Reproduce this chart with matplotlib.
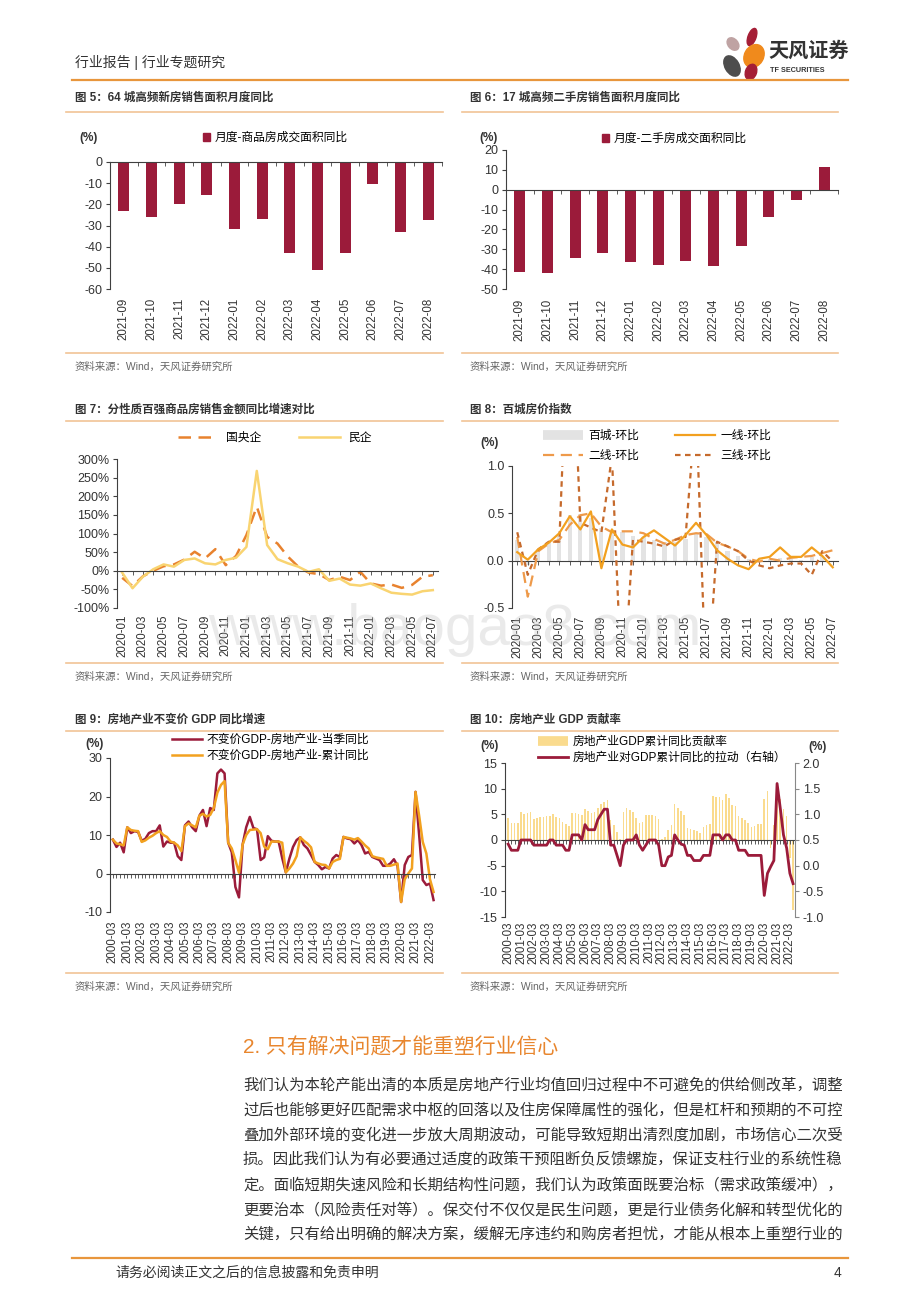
import numpy as np
import matplotlib
matplotlib.use("Agg")
import matplotlib.pyplot as plt
from matplotlib.lines import Line2D
from matplotlib.patches import Patch, Ellipse
from matplotlib.ticker import FuncFormatter

plt.rcParams['font.family'] = ['Liberation Sans', 'Noto Sans CJK SC', 'DejaVu Sans']
plt.rcParams['axes.unicode_minus'] = False

# ---------------- 数据 ----------------
months_a = ['2021-09', '2021-10', '2021-11', '2021-12', '2022-01', '2022-02',
            '2022-03', '2022-04', '2022-05', '2022-06', '2022-07', '2022-08']
new_home_yoy = [-23.0, -26.0, -19.8, -15.5, -31.8, -26.7, -42.8, -51.2, -43.1, -10.4, -33.1, -27.4]
second_home_yoy = [-41.2, -41.8, -34.2, -32.0, -36.2, -37.8, -35.9, -38.5, -28.3, -13.9, -5.0, 11.5]

months_b = [f'{y}-{m:02d}' for y in (2020, 2021, 2022) for m in range(1, 13)][:31]
soe_sales = [-19, -41, -15, 0, 12, 17, 30, 51, 33, 58, 15, 40, 96, 172, 91, 73, 38, 11, -5, -9,
             -25, -16, -25, -3, -34, -40, -37, -46, -38, -16, -12]
private_sales = [-5, -47, -16, 4, 17, 11, 29, 33, 20, 17, 29, 35, 64, 268, 69, 31, 20, 11, -3, 4,
                 -27, -21, -37, -40, -34, -47, -59, -62, -64, -55, -52]

city100_mom = [0.22, -0.05, 0.12, 0.2, 0.26, 0.48, 0.49, 0.45, 0.34, 0.32, 0.3, 0.26, 0.25, 0.22, 0.2, 0.2,
               0.23, 0.28, 0.25, 0.2, 0.1, 0.05, 0.02, 0.0, 0.02, 0.03, 0.02, 0.01, 0.04, 0.05, 0.0]
tier1_mom = [0.09, 0.01, 0.12, 0.19, 0.29, 0.47, 0.33, 0.52, -0.08, 0.33, 0.17, 0.14, 0.25, 0.32, 0.24, 0.16,
             0.27, 0.40, 0.27, 0.11, 0.02, -0.05, -0.09, 0.02, 0.04, 0.14, 0.04, 0.04, 0.14, 0.05, -0.07]
tier2_mom = [0.25, -0.38, 0.1, 0.18, 0.22, 0.38, 0.48, 0.5, 0.36, 0.3, 0.31, 0.31, 0.29, 0.23, 0.18, 0.22,
             0.27, 0.29, 0.28, 0.19, 0.15, 0.1, 0.02, -0.01, 0.02, 0.0, 0.03, 0.04, 0.05, 0.08, 0.11]
tier3_mom = [0.3, -0.15, 0.12, 0.2, 0.2, 3.0, 0.4, 0.35, 0.3, 1.1, -1.5, 0.22, 0.2, 0.18, 0.15, 0.22,
             0.25, 1.64, -1.5, 0.2, 0.15, 0.1, 0.0, -0.05, -0.08, -0.05, -0.03, -0.03, -0.15, 0.1, -0.01]

quarters = [f'{y}-{m:02d}' for y in range(2000, 2023) for m in (3, 6, 9, 12)][:90]
re_gdp_quarter = [8.8, 6.9, 8.0, 5.5, 12.0, 10.5, 11.0, 10.8, 8.5, 9.0, 10.5, 11.0,
                  11.0, 12.5, 7.0, 8.3, 8.0, 8.0, 4.5, 3.5, 12.5, 13.5, 12.0, 11.0,
                  15.0, 16.5, 12.3, 17.0, 16.5, 26.0, 27.0, 26.0, 8.0, 5.5, -3.5, -6.2,
                  7.5, 12.0, 14.7, 11.8, 11.5, 3.5, 4.2, 9.7, 8.5, 8.3, 8.3, 4.0,
                  0.3, 3.9, 6.9, 8.7, 9.4, 7.4, 6.5, 4.8, 3.0, 2.2, 1.1, 1.7,
                  1.3, 3.9, 4.8, 4.3, 9.5, 9.1, 8.9, 7.8, 8.7, 7.4, 5.2, 5.6,
                  4.3, 3.9, 3.5, 2.0, 2.0, 2.6, 3.7, 2.0, -7.4, 2.2, 4.3, 4.8,
                  21.2, 10.0, -1.7, -3.0, -2.6, -6.9]
re_gdp_cum = [8.8, 7.8, 7.6, 7.3, 12.0, 11.3, 11.1, 11.0, 8.2, 8.6, 9.3, 9.8,
              10.5, 11.0, 10.0, 9.5, 8.3, 8.0, 7.3, 5.8, 12.3, 13.0, 12.5, 12.0,
              15.0, 15.5, 14.8, 15.2, 17.0, 21.0, 23.0, 24.0, 8.0, 6.5, 3.5, 0.2,
              7.5, 10.0, 11.3, 11.4, 11.5, 10.5, 7.0, 6.3, 8.3, 8.3, 8.3, 8.0,
              0.3, 1.3, 2.6, 4.5, 9.4, 8.5, 7.8, 6.8, 3.0, 2.6, 2.3, 2.2,
              1.3, 3.0, 3.5, 3.8, 9.5, 9.3, 9.1, 8.8, 9.2, 8.3, 7.3, 6.5,
              4.5, 4.2, 4.0, 3.8, 2.0, 2.0, 2.3, 2.6, -7.4, -1.5, 0.0, 1.3,
              21.2, 15.0, 8.2, 5.2, -1.5, -4.8]

re_contrib = [4.2, 3.4, 3.4, 3.4, 5.5, 5.1, 5.2, 5.4, 4.1, 4.2, 4.4, 4.5,
              4.6, 4.7, 5.1, 4.4, 4.3, 3.6, 3.1, 2.7, 5.3, 5.3, 5.0, 4.9,
              6.0, 5.6, 5.3, 5.5, 6.2, 7.0, 7.4, 7.8, 3.8, 2.9, 1.5, 0.2,
              5.5, 6.2, 5.9, 5.5, 4.2, 3.3, 3.6, 4.9, 4.9, 4.9, 4.7, 4.1,
              0.2, 0.6, 1.9, 3.0, 7.1, 6.3, 5.6, 4.9, 2.4, 2.2, 1.9, 1.7,
              1.4, 2.6, 3.0, 3.1, 8.6, 8.4, 8.3, 7.8, 8.9, 8.1, 6.9, 6.6,
              4.7, 4.2, 3.9, 3.4, 2.6, 2.7, 3.2, 3.1, 8.0, 9.5, -1.5, 3.0,
              10.5, 8.0, 6.1, 4.6, -3.6, -13.6]
re_pull = [0.42, 0.3, 0.3, 0.3, 0.5, 0.5, 0.5, 0.5, 0.4, 0.4, 0.4, 0.4,
           0.4, 0.5, 0.5, 0.4, 0.4, 0.4, 0.3, 0.3, 0.6, 0.6, 0.6, 0.5,
           0.8, 0.7, 0.7, 0.7, 0.9, 1.0, 1.1, 1.1, 0.4, 0.4, 0.2, 0.0,
           0.4, 0.5, 0.5, 0.5, 0.6, 0.4, 0.3, 0.4, 0.5, 0.5, 0.5, 0.4,
           0.0, 0.0, 0.17, 0.2, 0.6, 0.5, 0.42, 0.4, 0.2, 0.2, 0.1, 0.1,
           0.1, 0.2, 0.2, 0.2, 0.6, 0.6, 0.6, 0.5, 0.6, 0.6, 0.5, 0.5,
           0.3, 0.3, 0.3, 0.2, 0.2, 0.2, 0.2, 0.2, -0.58, -0.15, -0.02, 0.1,
           1.6, 1.12, 0.6, 0.34, -0.15, -0.35]

body_lines = [
    '我们认为本轮产能出清的本质是房地产行业均值回归过程中不可避免的供给侧改革，调整',
    '过后也能够更好匹配需求中枢的回落以及住房保障属性的强化，但是杠杆和预期的不可控',
    '叠加外部环境的变化进一步放大周期波动，可能导致短期出清烈度加剧，市场信心二次受',
    '损。因此我们认为有必要通过适度的政策干预阻断负反馈螺旋，保证支柱行业的系统性稳',
    '定。面临短期失速风险和长期结构性问题，我们认为政策面既要治标（需求政策缓冲），',
    '更要治本（风险责任对等）。保交付不仅仅是民生问题，更是行业债务化解和转型优化的',
    '关键，只有给出明确的解决方案，缓解无序违约和购房者担忧，才能从根本上重塑行业的',
]

# ---------------- 颜色 ----------------
CRIMSON = '#9B1B3A'
TXT = '#333333'
DARK = '#404040'
RULE = '#F1C396'
ORANGE = '#E8963C'
SRC = '资料来源：Wind，天风证券研究所'

W, H = 920, 1302
fig = plt.figure(figsize=(W / 100, H / 100), dpi=100)


def axes_px(x0, y0, x1, y1):
    return fig.add_axes([x0 / W, 1 - y1 / H, (x1 - x0) / W, (y1 - y0) / H])


def text_px(x, y, s, **kw):
    kw.setdefault('va', 'center')
    kw.setdefault('color', TXT)
    fig.text(x / W, 1 - y / H, s, **kw)


def rule_px(x0, x1, y, color=RULE, lw=1.2):
    fig.add_artist(Line2D([x0 / W, x1 / W], [1 - y / H, 1 - y / H], color=color, lw=lw))


def legend_px(ax, handles, labels, x, y, **kw):
    return ax.legend(handles, labels, loc='center left', bbox_to_anchor=(x / W, 1 - y / H),
                     bbox_transform=fig.transFigure, frameon=False, borderpad=0,
                     borderaxespad=0, prop={'size': 8.5}, **kw)


def base_style(ax, label_pad):
    ax.spines[['top', 'right']].set_visible(False)
    ax.spines['bottom'].set_position(('data', 0))
    for s in ('left', 'bottom'):
        ax.spines[s].set_color(DARK)
        ax.spines[s].set_linewidth(0.8)
    ax.tick_params(axis='y', direction='out', length=3, width=0.8, color=DARK,
                   labelsize=9, labelcolor=TXT, pad=2.5)
    ax.tick_params(axis='x', which='major', length=0, labelsize=8.3, labelcolor=TXT,
                   pad=label_pad, labelrotation=90)
    ax.tick_params(axis='x', which='minor', direction='out', length=3, width=0.6, color=DARK)
    ax.xaxis.remove_overlapping_locs = False
    ax.set_facecolor('none')


# ---------------- 页眉 ----------------
text_px(75, 63, '行业报告 | 行业专题研究', fontsize=10)
rule_px(72, 848, 80, color=ORANGE, lw=1.6)
logo = axes_px(718, 26, 770, 82)
logo.set_xlim(718, 770)
logo.set_ylim(82, 26)
logo.axis('off')
for (cx, cy, w, h, ang, c) in [(752, 37, 8, 18, 20, '#A51E36'), (733, 44, 10, 14, -40, '#BFA3A3'),
                               (754, 56, 19, 24, 30, '#F08A1C'), (732, 66, 14, 22, -30, '#4D4D4D'),
                               (751, 72, 11, 16, 20, '#A51E36')]:
    logo.add_patch(Ellipse((cx, cy), w, h, angle=ang, color=c))
text_px(768, 51, '天风证券', fontsize=14.5, fontweight='bold')
text_px(770, 70, 'TF SECURITIES', fontsize=5.2, fontweight='bold')

# ---------------- 框架：标题、分隔线、来源 ----------------
titles = [('图 5：64 城高频新房销售面积月度同比', '图 6：17 城高频二手房销售面积月度同比'),
          ('图 7：分性质百强商品房销售金额同比增速对比', '图 8：百城房价指数'),
          ('图 9：房地产业不变价 GDP 同比增速', '图 10：房地产业 GDP 贡献率')]
for (ty, top, bot, sy), (tl, tr) in zip([(98, 112, 353, 367), (410, 421, 663, 677), (720, 731, 973, 987)], titles):
    text_px(75, ty, tl, fontsize=8.3, fontweight='bold')
    text_px(470, ty, tr, fontsize=8.3, fontweight='bold')
    for x0, x1 in ((66, 443), (462, 838)):
        rule_px(x0, x1, top)
        rule_px(x0, x1, bot)
    text_px(75, sy, SRC, fontsize=7.5, color='#666666')
    text_px(470, sy, SRC, fontsize=7.5, color='#666666')

# ---------------- 图 5 ----------------
ax5 = axes_px(110, 162, 442, 289)
x_a = np.arange(len(months_a))
ax5.bar(x_a, new_home_yoy, width=0.4, color=CRIMSON)
ax5.set_xlim(-0.5, len(months_a) - 0.5)
ax5.set_ylim(-60, 0)
ax5.set_yticks(range(-60, 1, 10))
ax5.set_xticks(x_a, months_a)
ax5.set_xticks(np.arange(-0.5, len(months_a)), minor=True)
base_style(ax5, 98)
legend_px(ax5, [Patch(color=CRIMSON)], ['月度-商品房成交面积同比'], 203, 138,
          handlelength=0.6, handleheight=0.6, handletextpad=0.4)
text_px(89, 138, '(%)', fontsize=8.5, fontweight='bold', ha='center')

# ---------------- 图 6 ----------------
ax6 = axes_px(506, 150, 838, 289)
ax6.bar(x_a, second_home_yoy, width=0.4, color=CRIMSON)
ax6.set_xlim(-0.5, len(months_a) - 0.5)
ax6.set_ylim(-50, 20)
ax6.set_yticks(range(-50, 21, 10))
ax6.set_xticks(x_a, months_a)
ax6.set_xticks(np.arange(-0.5, len(months_a)), minor=True)
base_style(ax6, 78.5)
legend_px(ax6, [Patch(color=CRIMSON)], ['月度-二手房成交面积同比'], 602, 139,
          handlelength=0.6, handleheight=0.6, handletextpad=0.4)
text_px(489, 138, '(%)', fontsize=8.5, fontweight='bold', ha='center')

# ---------------- 图 7 ----------------
ax7 = axes_px(117, 459, 438, 608)
x_b = np.arange(len(months_b))
l_soe, = ax7.plot(x_b, soe_sales, color='#E8822E', lw=1.8, dashes=(5, 3))
l_pri, = ax7.plot(x_b, private_sales, color='#F9D471', lw=1.8)
ax7.set_xlim(-0.5, len(months_b) - 0.5)
ax7.set_ylim(-100, 300)
ax7.set_yticks(range(-100, 301, 50))
ax7.yaxis.set_major_formatter(FuncFormatter(lambda v, _: f'{v:.0f}%'))
ax7.set_xticks(x_b[::2], months_b[::2])
ax7.set_xticks(x_b, minor=True)
base_style(ax7, 31.7)
legend_px(ax7, [l_soe, l_pri], ['国央企', '民企'], 178, 438, ncol=2,
          handlelength=3.4, handletextpad=0.7, columnspacing=3.2)

# ---------------- 图 8 ----------------
ax8 = axes_px(512, 466, 838, 608)
ax8.bar(x_b, city100_mom, width=0.4, color='#E3E3E3')
l_t1, = ax8.plot(x_b, tier1_mom, color='#F2A01F', lw=1.6, zorder=4)
l_t2, = ax8.plot(x_b, tier2_mom, color='#EE9A4A', lw=1.6, dashes=(5, 3), zorder=3)
l_t3, = ax8.plot(x_b, tier3_mom, color='#C66A2C', lw=1.6, dashes=(2.5, 2), zorder=3)
ax8.set_xlim(-0.5, len(months_b) - 0.5)
ax8.set_ylim(-0.5, 1.0)
ax8.set_yticks([-0.5, 0.0, 0.5, 1.0])
ax8.yaxis.set_major_formatter(FuncFormatter(lambda v, _: f'{v:.1f}'))
ax8.set_xticks(x_b[::2], months_b[::2])
ax8.set_xticks(x_b, minor=True)
base_style(ax8, 39.6)
h_bar = Line2D([], [], color='#E3E3E3', lw=7, solid_capstyle='butt')
legend_px(ax8, [h_bar, l_t2, l_t1, l_t3], ['百城-环比', '二线-环比', '一线-环比', '三线-环比'],
          543, 446, ncol=2, handlelength=3.4, handletextpad=0.45, columnspacing=3.0, labelspacing=0.7)
text_px(490, 443, '(%)', fontsize=8.5, fontweight='bold', ha='center')

# ---------------- 图 9 ----------------
ax9 = axes_px(110, 758, 435, 912)
x_q = np.arange(len(quarters))
l_q, = ax9.plot(x_q, re_gdp_quarter, color=CRIMSON, lw=1.8)
l_c, = ax9.plot(x_q, re_gdp_cum, color='#F2A11F', lw=1.8)
ax9.set_xlim(-0.8, 89.4)
ax9.set_ylim(-10, 30)
ax9.set_yticks(range(-10, 31, 10))
ax9.set_xticks(x_q[::4], quarters[::4])
ax9.set_xticks(x_q, minor=True)
base_style(ax9, 33.8)
legend_px(ax9, [l_q, l_c], ['不变价GDP-房地产业-当季同比', '不变价GDP-房地产业-累计同比'], 172, 748,
          handlelength=2.5, handletextpad=0.45, labelspacing=0.3)
text_px(95, 744, '(%)', fontsize=8.5, fontweight='bold', ha='center')

# ---------------- 图 10 ----------------
ax10 = axes_px(505, 763, 795, 917)
ax10.bar(x_q, re_contrib, width=0.5, color='#FADB8E')
ax10.set_xlim(-1.0, 89.6)
ax10.set_ylim(-15, 15)
ax10.set_yticks(range(-15, 16, 5))
ax10.set_xticks(x_q[::4], quarters[::4])
ax10.set_xticks(x_q, minor=True)
base_style(ax10, 59)
ax10r = ax10.twinx()
l_p, = ax10r.plot(x_q, re_pull, color=CRIMSON, lw=2.0)
ax10r.set_ylim(-1.0, 2.0)
ax10r.set_yticks(np.arange(-1.0, 2.01, 0.5))
ax10r.yaxis.set_major_formatter(FuncFormatter(lambda v, _: f'{v:.1f}'))
ax10r.spines[['top', 'left', 'bottom']].set_visible(False)
ax10r.spines['right'].set_color('#888888')
ax10r.tick_params(axis='y', direction='out', length=3, width=0.8, color='#888888',
                  labelsize=9, labelcolor=TXT, pad=2.5)
h_bar10 = Line2D([], [], color='#FADB8E', lw=7, solid_capstyle='butt')
legend_px(ax10r, [h_bar10, l_p], ['房地产业GDP累计同比贡献率', '房地产业对GDP累计同比的拉动（右轴）'], 538, 750,
          handlelength=2.5, handletextpad=0.45, labelspacing=0.35)
text_px(490, 746, '(%)', fontsize=8.5, fontweight='bold', ha='center')
text_px(818, 747, '(%)', fontsize=8.5, fontweight='bold', ha='center')

# ---------------- 水印 ----------------
text_px(455, 630, 'www.baogao8.com', fontsize=42, color='#BBBBBB', alpha=0.3, ha='center', zorder=100)

# ---------------- 正文 ----------------
text_px(243, 1047, '2. 只有解决问题才能重塑行业信心', fontsize=15, color='#E8862E')
for i, line in enumerate(body_lines):
    text_px(243, 1085 + 25 * i, line, fontsize=11.1)

# ---------------- 页脚 ----------------
rule_px(72, 848, 1258, color=ORANGE, lw=1.6)
text_px(115, 1273, '请务必阅读正文之后的信息披露和免责申明', fontsize=10)
text_px(841, 1273, '4', fontsize=10, ha='right')

fig.savefig('out.png', dpi=100)
